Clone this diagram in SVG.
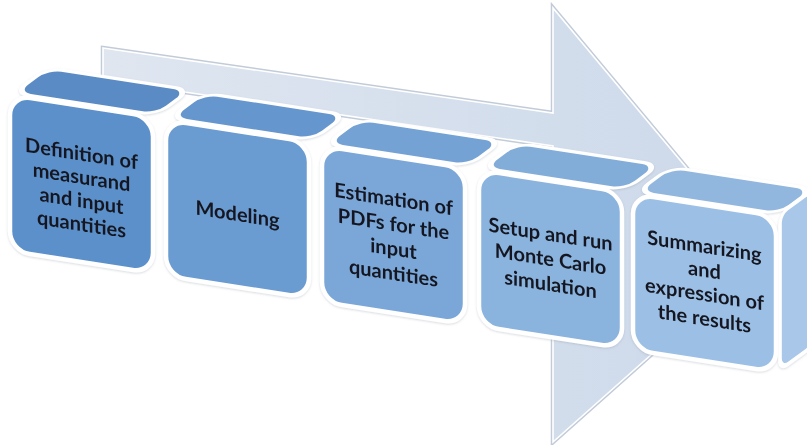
<svg xmlns="http://www.w3.org/2000/svg" width="807" height="445" viewBox="0 0 807 445">
  <defs>
    <linearGradient id="arrowFill" x1="0" y1="0" x2="1" y2="0">
      <stop offset="0" stop-color="#dfe6f0"/>
      <stop offset="1" stop-color="#ccd9ea"/>
    </linearGradient>
    <filter id="soft" x="-10%" y="-10%" width="120%" height="125%">
      <feDropShadow dx="0" dy="1" stdDeviation="1.2" flood-color="#7d8796" flood-opacity="0.3"/>
    </filter>
  </defs>
  <style>
    .face { stroke: #ffffff; stroke-width: 4.5; stroke-linejoin: round; }
    .label { font-family: "Lato", "Liberation Sans", sans-serif; font-weight: bold; font-size: 20px; fill: #151922; text-anchor: middle; }
    .arrow-edge { fill: none; stroke: #c2ccd9; stroke-width: 4.5; stroke-linejoin: miter; }
    .arrow-body { fill: url(#arrowFill); stroke: #ffffff; stroke-width: 1.6; stroke-linejoin: miter; }
  </style>

  <rect width="807" height="445" fill="#ffffff"/>

  <!-- large process arrow running behind the steps -->
  <g id="connectors">
    <polygon class="arrow-edge" points="103,48 553,113 553,8 761,257 553,442 553,146 103,80"/>
    <polygon class="arrow-body" points="103,48 553,113 553,8 761,257 553,442 553,146 103,80"/>
  </g>

  <!-- step 1 -->
  <g id="step1" filter="url(#soft)">
    <rect class="face" transform="matrix(1,0.155,0.81,-0.595,14,93)" x="0" y="0" width="142" height="42" rx="15" ry="15" fill="#5a8bc5"/>
    <g transform="translate(10,95) skewY(8.8)">
      <rect class="face" x="0" y="0" width="143" height="156" rx="20" ry="20" fill="#5c90ca"/>
      <text class="label" x="71.5" y="54.5">Definition of</text>
      <text class="label" x="71.5" y="78">measurand</text>
      <text class="label" x="71.5" y="101.5">and input</text>
      <text class="label" x="71.5" y="125">quantities</text>
    </g>
  </g>

  <!-- step 2 -->
  <g id="step2" filter="url(#soft)">
    <rect class="face" transform="matrix(1,0.155,0.81,-0.595,170,118)" x="0" y="0" width="142" height="42" rx="15" ry="15" fill="#6696ce"/>
    <g transform="translate(166,120) skewY(8.8)">
      <rect class="face" x="0" y="0" width="143" height="156" rx="20" ry="20" fill="#6a9bd1"/>
      <text class="label" x="71.5" y="90">Modeling</text>
    </g>
  </g>

  <!-- step 3 -->
  <g id="step3" filter="url(#soft)">
    <rect class="face" transform="matrix(1,0.155,0.81,-0.595,326,144)" x="0" y="0" width="142" height="42" rx="15" ry="15" fill="#74a2d4"/>
    <g transform="translate(322,146) skewY(8.8)">
      <rect class="face" x="0" y="0" width="143" height="156" rx="20" ry="20" fill="#7aa7d8"/>
      <text class="label" x="71.5" y="49">Estimation of</text>
      <text class="label" x="71.5" y="74">PDFs for the</text>
      <text class="label" x="71.5" y="98.5">input</text>
      <text class="label" x="71.5" y="123">quantities</text>
    </g>
  </g>

  <!-- step 4 -->
  <g id="step4" filter="url(#soft)">
    <rect class="face" transform="matrix(1,0.155,0.81,-0.595,483,168)" x="0" y="0" width="142" height="42" rx="15" ry="15" fill="#83add9"/>
    <g transform="translate(479,170) skewY(8.8)">
      <rect class="face" x="0" y="0" width="143" height="156" rx="20" ry="20" fill="#8ab3de"/>
      <text class="label" x="71.5" y="60">Setup and run</text>
      <text class="label" x="71.5" y="85">Monte Carlo</text>
      <text class="label" x="71.5" y="110">simulation</text>
    </g>
  </g>

  <!-- step 5 -->
  <g id="step5" filter="url(#soft)">
    <rect class="face" transform="matrix(1,0.155,0.81,-0.595,637,192)" x="0" y="0" width="142" height="42" rx="15" ry="15" fill="#92b7df"/>
    <rect class="face" transform="matrix(0.81,-0.595,0,1,780,214)" x="0" y="0" width="42" height="156" rx="10" ry="10" fill="#a8c7e9"/>
    <g transform="translate(633,194) skewY(8.8)">
      <rect class="face" x="0" y="0" width="143" height="156" rx="20" ry="20" fill="#9cc0e5"/>
      <text class="label" x="71.5" y="48">Summarizing</text>
      <text class="label" x="71.5" y="72">and</text>
      <text class="label" x="71.5" y="96">expression of</text>
      <text class="label" x="71.5" y="120.5">the results</text>
    </g>
  </g>
</svg>
